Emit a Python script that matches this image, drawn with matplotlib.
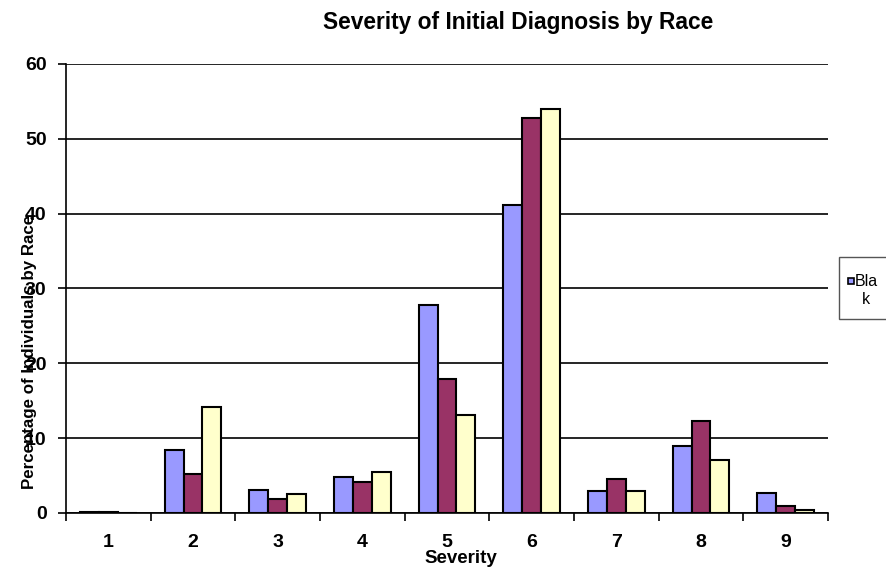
import numpy as np
import matplotlib.pyplot as plt
from matplotlib.patches import Rectangle

plt.rcParams['font.family'] = ['Liberation Sans', 'DejaVu Sans']

# Data (percent of individuals by race)
severity = ['1', '2', '3', '4', '5', '6', '7', '8', '9']
black = [0.1, 8.4, 3.1, 4.8, 27.8, 41.1, 3.0, 8.9, 2.7]
race2 = [0.1, 5.2, 1.9, 4.1, 17.9, 52.8, 4.5, 12.3, 1.0]
race3 = [0.0, 14.2, 2.5, 5.5, 13.1, 54.0, 3.0, 7.1, 0.45]
yticks = [0, 10, 20, 30, 40, 50, 60]

colors = ['#9999FF', '#993366', '#FFFFCC']

fig = plt.figure(figsize=(8.86, 5.76), dpi=100)
ax = fig.add_axes([0.0745, 0.1094, 0.86, 0.7795])

x = np.arange(len(severity))
w = 1 / 4.5
for i, (vals, c) in enumerate(zip([black, race2, race3], colors)):
    ax.bar(x + (i - 1) * w, vals, width=w, color=c, edgecolor='black',
           linewidth=1.5, zorder=3)

ax.set_xlim(-0.5, len(severity) - 0.5)
ax.set_ylim(0, 60)
ax.set_yticks(yticks)
ax.set_yticklabels([str(t) for t in yticks], fontsize=14, fontweight='bold')
ax.yaxis.grid(True, color='black', linewidth=1.2, zorder=0)

ax.set_xticks(x)
ax.set_xticklabels(severity, fontsize=14, fontweight='bold')
ax.set_xticks(np.arange(-0.5, len(severity)), minor=True)
ax.tick_params(axis='x', which='major', length=0, pad=15)
ax.tick_params(axis='x', which='minor', length=6, width=1.2, direction='out')
ax.tick_params(axis='y', length=6, width=1.2, direction='out', pad=8)

for s in ['top', 'right']:
    ax.spines[s].set_visible(False)
ax.spines['left'].set_linewidth(1.2)
ax.spines['bottom'].set_linewidth(1.2)

fig.text(518 / 886, 1 - 29 / 576, 'Severity of Initial Diagnosis by Race',
         ha='center', va='baseline', fontsize=16.4, fontweight='bold')
fig.text(461 / 886, 1 - 563 / 576, 'Severity', ha='center', va='baseline',
         fontsize=13.5, fontweight='bold')
fig.text(30 / 886, 1 - 352 / 576, 'Percentage of Individuals by Race',
         rotation=90, ha='center', va='center', fontsize=12.2,
         fontweight='bold')

# partial legend box, cut off at the right edge
fig.patches.append(Rectangle((839 / 886, 1 - 319 / 576), 0.1, 62 / 576,
                             transform=fig.transFigure, facecolor='white',
                             edgecolor='#555555', linewidth=1))
fig.patches.append(Rectangle((848 / 886, 1 - 284 / 576), 6 / 886, 6 / 576,
                             transform=fig.transFigure, facecolor=colors[0],
                             edgecolor='black', linewidth=1.2))
fig.text(855 / 886, 1 - 281 / 576, 'Bla', ha='left', va='center',
         fontsize=11.5)
fig.text(862 / 886, 1 - 300 / 576, 'k', ha='left', va='center',
         fontsize=11.5)

fig.savefig('out.png', dpi=100)
